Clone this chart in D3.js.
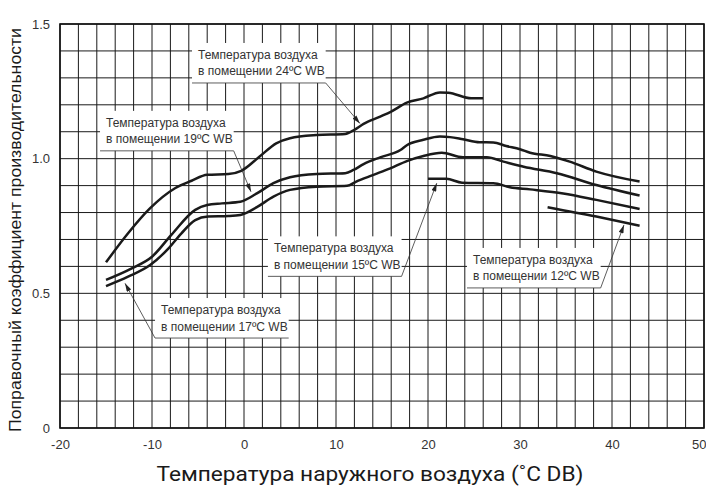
<!DOCTYPE html>
<html>
<head>
<meta charset="utf-8">
<script src="https://cdn.jsdelivr.net/npm/d3@7/dist/d3.min.js"></script>
<style>
  html, body { margin: 0; padding: 0; background: #fff; }
  svg { display: block; }
</style>
</head>
<body>
<div id="chart"></div>
<script>
// tick values
const xTicks = [-20, -10, 0, 10, 20, 30, 40, 50];
const yTicks = [0, 0.5, 1.0, 1.5];

// outdoor temp (°C DB), correction factor - one array per indoor WB temp
const curveWB24 = [
  [-15, 0.615], [-12.6, 0.723], [-10.2, 0.816], [-7.5, 0.89], [-5.7, 0.918], [-4, 0.94],
  [-1.7, 0.943], [-0.3, 0.955], [1.7, 1.008], [3.5, 1.057], [5, 1.076], [7.9, 1.088],
  [11, 1.092], [12, 1.107], [13, 1.129], [14.8, 1.156], [16, 1.175], [17.7, 1.208],
  [19.5, 1.224], [21.3, 1.246], [22.2, 1.245], [24.7, 1.224], [26, 1.224]
];
const curveWB19 = [
  [-15, 0.55], [-12.2, 0.593], [-10, 0.636], [-7.9, 0.717], [-5.3, 0.81], [-4, 0.828],
  [-2.4, 0.834], [-0.4, 0.84], [1.4, 0.871], [3.2, 0.909], [5, 0.931], [7.9, 0.943],
  [11, 0.946], [11.9, 0.958], [13, 0.98], [14.8, 1.005], [17, 1.032], [17.7, 1.05],
  [19.5, 1.07], [21.3, 1.082], [22.4, 1.08], [23.8, 1.072], [25.6, 1.061], [27.1, 1.06],
  [28.5, 1.047], [30, 1.035], [31.1, 1.022], [33.3, 1.01], [35.4, 0.989], [38.3, 0.952],
  [43, 0.915]
];
const curveWB17 = [
  [-15, 0.527], [-12.6, 0.562], [-10.2, 0.605], [-8.2, 0.667], [-6.8, 0.723], [-5.3, 0.772],
  [-3.9, 0.785], [-1.7, 0.787], [-0.4, 0.791], [1.4, 0.82], [3.2, 0.859], [5, 0.884],
  [7.9, 0.896], [11.2, 0.899], [12.2, 0.915], [14, 0.939], [15.9, 0.964], [17.7, 0.991],
  [19.5, 1.01], [21.5, 1.022], [23.8, 1.005], [26.4, 1.005], [28.2, 0.989], [30.4, 0.97],
  [34, 0.946], [38.3, 0.902], [43, 0.863]
];
const curveWB15 = [
  [20, 0.925], [22, 0.925], [23.7, 0.911], [27.1, 0.909], [28.9, 0.894], [31.1, 0.886],
  [34.7, 0.871], [38.3, 0.847], [43, 0.813]
];
const curveWB12 = [
  [33, 0.82], [38.3, 0.785], [43, 0.751]
];

const labelLine1 = 'Температура воздуха';

const xTitle = 'Температура наружного воздуха (˚C DB)';
const yTitle = 'Поправочный коэффициент производительности';

// callout placement in data units: box corner, arrow tip, which end the leader starts from
const callouts = [
  { wb: '24', x0: -5.65, y0: 1.385, tip: [12.6, 1.131], from: 'right' },
  { wb: '19', x0: -15.65, y0: 1.133, tip: [0.76, 0.877], from: 'right' },
  { wb: '17', x0: -9.67, y0: 0.438, tip: [-12.93, 0.537], from: 'left' },
  { wb: '15', x0: 2.6, y0: 0.667, tip: [20.95, 0.909], from: 'right' },
  { wb: '12', x0: 24.24, y0: 0.624, tip: [41.3, 0.754], from: 'right' }
];

const width = 706;
const height = 486;
const margin = { top: 24, right: 2, bottom: 58, left: 60 };

const svg = d3.select('#chart')
  .append('svg')
  .attr('width', width)
  .attr('height', height)
  .attr('viewBox', `0 0 ${width} ${height}`);

const x = d3.scaleLinear().domain([-20, 50]).range([margin.left, width - margin.right]);
const y = d3.scaleLinear().domain([0, 1.5]).range([height - margin.bottom, margin.top]);

// grid
const grid = svg.append('g').attr('class', 'grid')
  .attr('stroke', '#1a1a1a').attr('stroke-width', 1);

grid.selectAll('line.v')
  .data(d3.range(-20, 51, 2))
  .enter().append('line')
  .attr('class', 'v')
  .attr('x1', d => x(d)).attr('x2', d => x(d))
  .attr('y1', y(0)).attr('y2', y(1.5));

grid.selectAll('line.h')
  .data(d3.range(0, 16).map(i => i / 10))
  .enter().append('line')
  .attr('class', 'h')
  .attr('x1', x(-20)).attr('x2', x(50))
  .attr('y1', d => y(d)).attr('y2', d => y(d));

// frame
svg.append('rect')
  .attr('x', x(-20)).attr('y', y(1.5))
  .attr('width', x(50) - x(-20)).attr('height', y(0) - y(1.5))
  .attr('fill', 'none').attr('stroke', '#111').attr('stroke-width', 1.6);

// axes (labels only)
const xAxis = d3.axisBottom(x).tickValues(xTicks).tickSize(0).tickPadding(12)
  .tickFormat(d => String(d));
const yAxis = d3.axisLeft(y).tickValues(yTicks).tickSize(0).tickPadding(10)
  .tickFormat(d => d === 0 ? '0' : d3.format('.1f')(d));

svg.append('g')
  .attr('transform', `translate(0, ${y(0)})`)
  .call(xAxis)
  .call(g => g.select('.domain').remove())
  .selectAll('text')
  .attr('font-family', '"Liberation Sans", Arial, sans-serif')
  .attr('font-size', 13).attr('fill', '#333')
  // the last label sits on the page edge; keep it inside
  .filter(d => d === 50)
  .attr('text-anchor', 'end')
  .attr('dx', 2);

svg.append('g')
  .attr('transform', `translate(${x(-20)}, 0)`)
  .call(yAxis)
  .call(g => g.select('.domain').remove())
  .selectAll('text')
  .attr('font-family', '"Liberation Sans", Arial, sans-serif')
  .attr('font-size', 13).attr('fill', '#333');

// callout boxes (drawn under the curves)
const lineGap = 16.5;
const boxes = svg.append('g').attr('class', 'callouts');

callouts.forEach(c => {
  const bx = x(c.x0);
  const by = y(c.y0);
  const g = boxes.append('g');
  const rect = g.append('rect').attr('fill', '#fff');
  const t1 = g.append('text').text(labelLine1)
    .attr('x', bx + 6).attr('y', by + 4);
  const t2 = g.append('text').text(`в помещении ${c.wb}ºC WB`)
    .attr('x', bx + 6).attr('y', by + 4 + lineGap);
  g.selectAll('text')
    .attr('font-family', '"Liberation Sans", Arial, sans-serif')
    .attr('font-size', 12).attr('fill', '#333');
  const w = Math.max(t1.node().getComputedTextLength(), t2.node().getComputedTextLength()) + 7;
  rect.attr('x', bx).attr('y', by - 12).attr('width', w).attr('height', 40);
  g.append('line')
    .attr('x1', bx).attr('x2', bx + w)
    .attr('y1', by + 28).attr('y2', by + 28)
    .attr('stroke', '#333').attr('stroke-width', 0.8);
  c.start = [c.from === 'right' ? bx + w : bx, by + 28];
});

// curves
const line = d3.line()
  .x(d => x(d[0]))
  .y(d => y(d[1]))
  .curve(d3.curveMonotoneX);

svg.append('g').attr('class', 'curves')
  .selectAll('path')
  .data([curveWB24, curveWB19, curveWB17, curveWB15, curveWB12])
  .enter().append('path')
  .attr('d', line)
  .attr('fill', 'none')
  .attr('stroke', '#1a1a1a')
  .attr('stroke-width', 2.5)
  .attr('stroke-linejoin', 'round');

// leader arrows
svg.append('defs').append('marker')
  .attr('id', 'arrow')
  .attr('viewBox', '0 0 10 6')
  .attr('refX', 10).attr('refY', 3)
  .attr('markerWidth', 9).attr('markerHeight', 5)
  .attr('markerUnits', 'userSpaceOnUse')
  .attr('orient', 'auto')
  .append('path')
  .attr('d', 'M0,0 L10,3 L0,6 z')
  .attr('fill', '#222');

svg.append('g').attr('class', 'leaders')
  .selectAll('line')
  .data(callouts)
  .enter().append('line')
  .attr('x1', d => d.start[0]).attr('y1', d => d.start[1])
  .attr('x2', d => x(d.tip[0])).attr('y2', d => y(d.tip[1]))
  .attr('stroke', '#333').attr('stroke-width', 0.8)
  .attr('marker-end', 'url(#arrow)');

// titles
svg.append('text')
  .attr('x', 370).attr('y', 481)
  .attr('text-anchor', 'middle')
  .attr('font-family', 'Roboto, sans-serif')
  .attr('font-weight', 400)
  .attr('font-size', 20)
  .attr('fill', '#1a1a1a')
  .attr('textLength', 427).attr('lengthAdjust', 'spacingAndGlyphs')
  .text(xTitle);

svg.append('text')
  .attr('transform', 'translate(21, 230) rotate(-90)')
  .attr('text-anchor', 'middle')
  .attr('font-family', '"Liberation Sans", Arial, sans-serif')
  .attr('font-size', 17)
  .attr('fill', '#1a1a1a')
  .attr('textLength', 404).attr('lengthAdjust', 'spacingAndGlyphs')
  .text(yTitle);
</script>
</body>
</html>
